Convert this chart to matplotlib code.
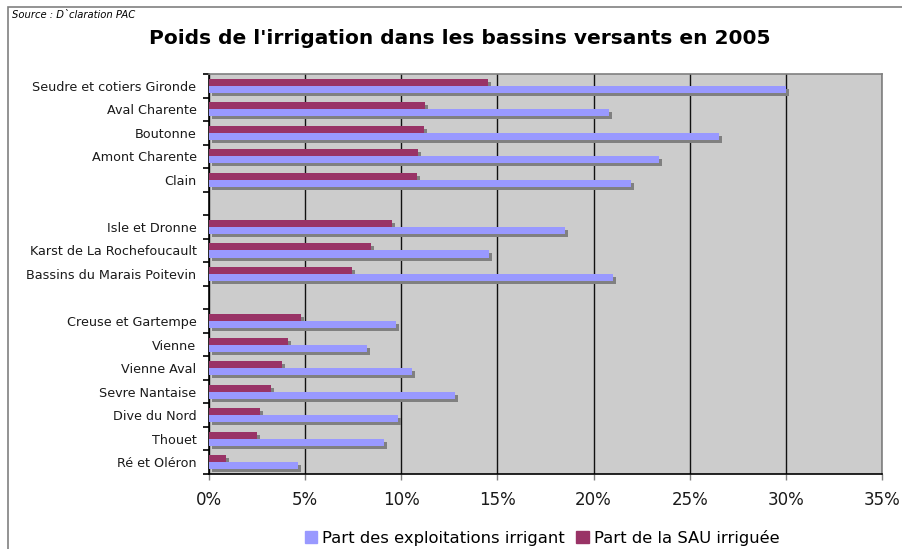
import matplotlib
matplotlib.use("Agg")
import matplotlib.pyplot as plt
from matplotlib.patches import Rectangle, Patch
from matplotlib.ticker import FuncFormatter
import numpy as np

# basins, in three groups separated by an empty row
groups = [
    ["Seudre et cotiers Gironde", "Aval Charente", "Boutonne", "Amont Charente", "Clain"],
    ["Isle et Dronne", "Karst de La Rochefoucault", "Bassins du Marais Poitevin"],
    ["Creuse et Gartempe", "Vienne", "Vienne Aval", "Sevre Nantaise", "Dive du Nord",
     "Thouet", "Ré et Oléron"],
]
# Part des exploitations irrigant (%)
part_exploit = [30.0, 20.8, 26.5, 23.4, 21.95,
                18.5, 14.55, 21.0,
                9.7, 8.2, 10.55, 12.8, 9.85, 9.1, 4.65]
# Part de la SAU irriguée (%)
part_sau = [14.5, 11.25, 11.2, 10.85, 10.8,
            9.5, 8.4, 7.45,
            4.8, 4.1, 3.8, 3.25, 2.65, 2.5, 0.9]

labels = []
pos = []
row = 0
for g in groups:
    for name in g:
        labels.append(name)
        pos.append(row)
        row += 1
    row += 1  # blank row between groups
n_rows = row - 1
pos = np.array(pos)

BLUE = "#9999FF"
RED = "#993366"
SHADOW = "#808080"
BG = "#CCCCCC"

W, H = 902, 549
fig = plt.figure(figsize=(W / 100, H / 100), dpi=100)

# outer chart frame (only left/top visible in the crop)
fig.patches.append(Rectangle((8 / W, -0.1), 1.2, 1 - 7 / H + 0.1, transform=fig.transFigure,
                             fill=False, edgecolor="#808080", linewidth=1.2))

ax = fig.add_axes([209 / W, (H - 474) / H, 673 / W, 400 / H])
ax.set_facecolor(BG)

bh = 0.3
dx = 3 * 35 / 673          # 3 px shadow offset in data units
dy = 3 * n_rows / 400

# shadows first
ax.barh(pos - bh + dy, part_sau, height=bh, left=dx, align="edge", color=SHADOW, zorder=2)
ax.barh(pos + dy, part_exploit, height=bh, left=dx, align="edge", color=SHADOW, zorder=2)
ax.barh(pos - bh, part_sau, height=bh, align="edge", color=RED, zorder=3)
ax.barh(pos, part_exploit, height=bh, align="edge", color=BLUE, zorder=4)

ax.set_xlim(0, 35)
ax.set_ylim(n_rows - 0.5, -0.5)

ax.set_xticks(np.arange(0, 36, 5))
ax.xaxis.set_major_formatter(FuncFormatter(lambda v, p: f"{v:.0f}%"))
ax.grid(axis="x", color="#111111", linewidth=1.0, zorder=1)
ax.set_axisbelow(True)

ax.set_yticks(np.arange(-0.5, n_rows, 1.0))
ax.set_yticklabels([])
ax.set_yticks(pos, minor=True)
ax.set_yticklabels(labels, minor=True, fontsize=9.2, color="#1a1a1a")
ax.tick_params(axis="y", which="major", direction="out", length=4, width=1.2, color="black")
ax.tick_params(axis="y", which="minor", length=0, pad=9)
ax.tick_params(axis="x", direction="out", length=4, width=1.0, color="#808080",
               labelsize=12, pad=8, labelcolor="#1a1a1a")

for side in ["left", "bottom"]:
    ax.spines[side].set_color("black")
    ax.spines[side].set_linewidth(1.2)
for side in ["right", "top"]:
    ax.spines[side].set_color("#808080")
    ax.spines[side].set_linewidth(1.2)

fig.text(12 / W, 1 - 15 / H, "Source : D`claration PAC", fontsize=7.2, style="italic",
         va="center", ha="left")
fig.text(460 / W, 1 - 38 / H, "Poids de l'irrigation dans les bassins versants en 2005",
         fontsize=14.5, fontweight="bold", ha="center", va="center")

handles = [Patch(color=BLUE, label="Part des exploitations irrigant"),
           Patch(color=RED, label="Part de la SAU irriguée")]
fig.legend(handles=handles, loc="center", bbox_to_anchor=(542 / W, 1 - 538 / H), ncol=2,
           frameon=False, fontsize=11.8, handlelength=0.75, handleheight=0.75,
           handletextpad=0.3, columnspacing=0.7, borderaxespad=0)

fig.savefig("out.png", dpi=100)
